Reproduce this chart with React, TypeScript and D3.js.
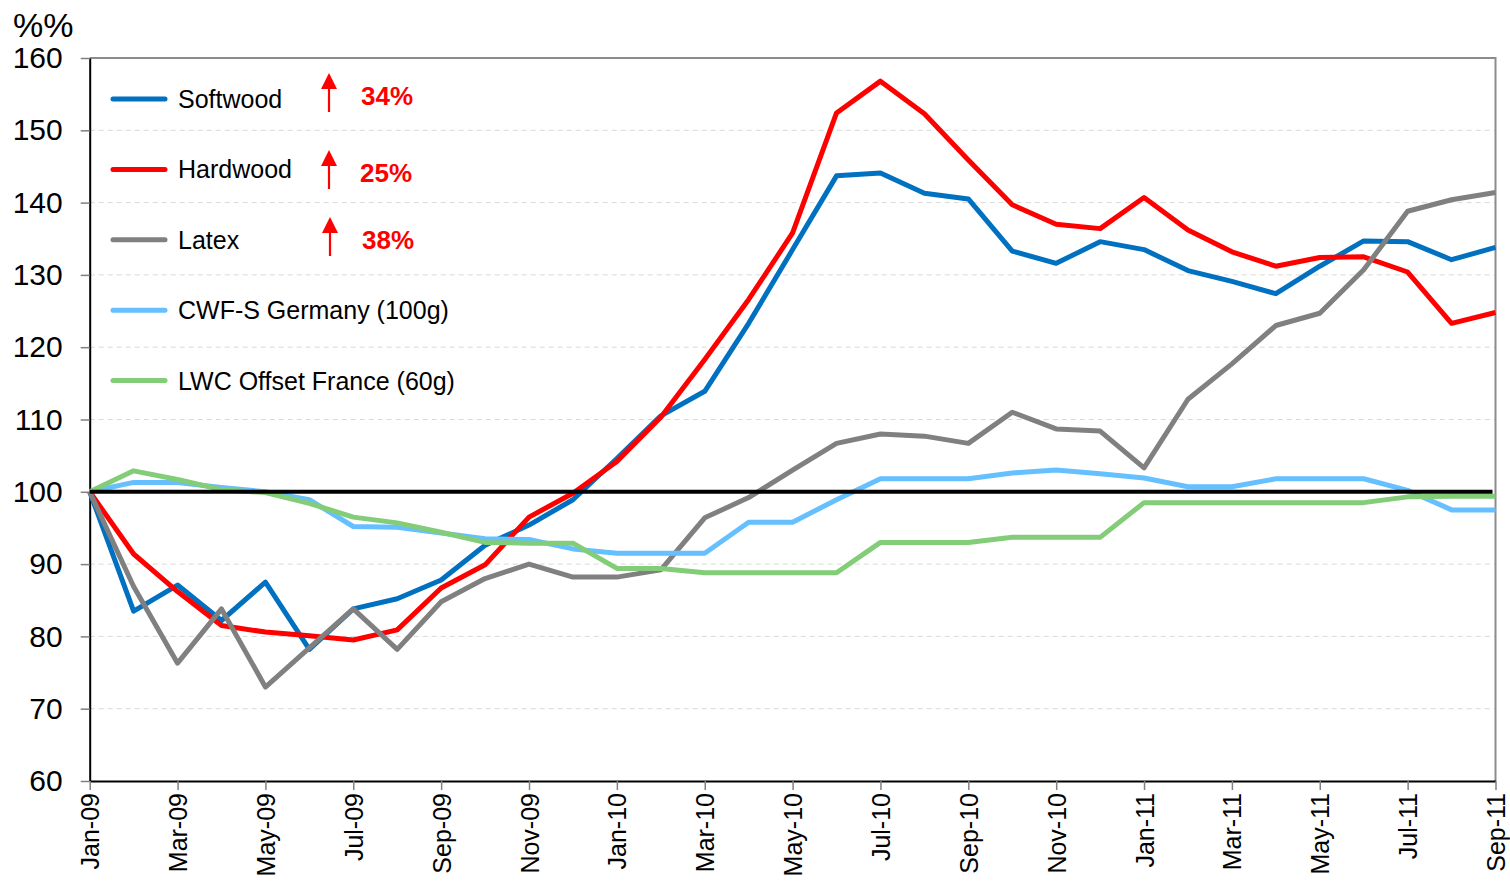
import React, { useEffect, useRef } from 'react';
import * as d3 from 'd3';

const months = [
  'Jan-09', 'Feb-09', 'Mar-09', 'Apr-09', 'May-09', 'Jun-09', 'Jul-09', 'Aug-09', 'Sep-09', 'Oct-09', 'Nov-09', 'Dec-09',
  'Jan-10', 'Feb-10', 'Mar-10', 'Apr-10', 'May-10', 'Jun-10', 'Jul-10', 'Aug-10', 'Sep-10', 'Oct-10', 'Nov-10', 'Dec-10',
  'Jan-11', 'Feb-11', 'Mar-11', 'Apr-11', 'May-11', 'Jun-11', 'Jul-11', 'Aug-11', 'Sep-11',
];

const xTickLabels = [
  'Jan-09', 'Mar-09', 'May-09', 'Jul-09', 'Sep-09', 'Nov-09',
  'Jan-10', 'Mar-10', 'May-10', 'Jul-10', 'Sep-10', 'Nov-10',
  'Jan-11', 'Mar-11', 'May-11', 'Jul-11', 'Sep-11',
];

const yTicks = [60, 70, 80, 90, 100, 110, 120, 130, 140, 150, 160];

const softwood = [100, 83.5, 87.1, 82.2, 87.5, 78.2, 83.8, 85.2, 87.8, 92.6, 95.4, 98.9, 104.6, 110.5, 113.9, 123.3, 133.5,
  143.7, 144.1, 141.3, 140.5, 133.3, 131.6, 134.6, 133.5, 130.6, 129.1, 127.4, 131.2, 134.7, 134.6, 132.1, 133.8];
const hardwood = [100, 91.4, 86.2, 81.5, 80.6, 80.1, 79.5, 80.9, 86.7, 89.9, 96.5, 99.8, 104.2, 110.3, 118.3, 126.6, 135.8,
  152.4, 156.8, 152.3, 145.9, 139.7, 137.0, 136.4, 140.7, 136.2, 133.2, 131.2, 132.4, 132.5, 130.4, 123.3, 124.8];
const latex = [100, 86.9, 76.3, 83.8, 73.0, 78.4, 83.8, 78.2, 84.8, 88.0, 90.0, 88.2, 88.2, 89.2, 96.4, 99.2, 103.0,
  106.7, 108.0, 107.7, 106.7, 111.0, 108.7, 108.4, 103.3, 112.8, 117.7, 123.0, 124.7, 130.7, 138.8, 140.4, 141.4];
const cwfGermany = [100, 101.3, 101.3, 100.6, 100, 98.9, 95.2, 95.1, 94.3, 93.5, 93.4, 92.1, 91.5, 91.5, 91.5, 95.8, 95.8,
  98.9, 101.8, 101.8, 101.8, 102.6, 103.0, 102.5, 101.9, 100.7, 100.7, 101.8, 101.8, 101.8, 100.2, 97.5, 97.5];
const lwcFrance = [100, 102.9, 101.7, 100.3, 99.9, 98.4, 96.5, 95.7, 94.4, 93.0, 92.9, 92.9, 89.4, 89.4, 88.8, 88.8, 88.8,
  88.8, 93.0, 93.0, 93.0, 93.7, 93.7, 93.7, 98.5, 98.5, 98.5, 98.5, 98.5, 98.5, 99.3, 99.4, 99.4];

const seriesNames = ['Softwood', 'Hardwood', 'Latex', 'CWF-S Germany (100g)', 'LWC Offset France (60g)'];
const seriesColors = ['#0070c0', '#ff0000', '#808080', '#66c0ff', '#83cc78'];
const changeLabels = ['34%', '25%', '38%'];

const width = 1510;
const height = 883;
const margin = { top: 58, right: 14.5, bottom: 102, left: 89.7 };
const font = '"Liberation Sans", Arial, sans-serif';

function App() {
  const ref = useRef<SVGSVGElement>(null);

  useEffect(() => {
    document.body.style.margin = '0';
    const svg = d3.select(ref.current);
    svg.selectAll('*').remove();

    const x = d3.scalePoint<string>()
      .domain(months)
      .range([margin.left, width - margin.right]);

    const y = d3.scaleLinear()
      .domain([60, 160])
      .range([height - margin.bottom, margin.top]);

    // grid
    svg.append('g')
      .selectAll('line')
      .data(yTicks.filter(d => d > 60 && d < 160))
      .join('line')
      .attr('x1', margin.left)
      .attr('x2', width - margin.right)
      .attr('y1', d => y(d))
      .attr('y2', d => y(d))
      .attr('stroke', '#d9d9d9')
      .attr('stroke-width', 1)
      .attr('stroke-dasharray', '5,4');

    // frame top / right
    svg.append('path')
      .attr('d', `M${margin.left},${y(160)}H${width - margin.right}V${y(60)}`)
      .attr('fill', 'none')
      .attr('stroke', '#8c8c8c')
      .attr('stroke-width', 2);

    const yAxis = svg.append('g')
      .attr('transform', `translate(${margin.left},0)`)
      .call(d3.axisLeft(y).tickValues(yTicks).tickSize(9).tickPadding(18).tickSizeOuter(0));
    yAxis.select('.domain').attr('stroke', '#000').attr('stroke-width', 2);
    yAxis.selectAll('.tick line').attr('stroke', '#808080').attr('stroke-width', 1.5);
    yAxis.selectAll('text')
      .attr('font-family', font)
      .attr('font-size', 30)
      .attr('fill', '#000');

    const xAxis = svg.append('g')
      .attr('transform', `translate(0,${height - margin.bottom})`)
      .call(d3.axisBottom(x).tickValues(xTickLabels).tickSize(9).tickSizeOuter(0));
    xAxis.select('.domain').attr('stroke', '#000').attr('stroke-width', 2);
    xAxis.selectAll('.tick line').attr('stroke', '#808080').attr('stroke-width', 1.5);
    xAxis.selectAll('text')
      .attr('font-family', font)
      .attr('font-size', 25)
      .attr('fill', '#000')
      .attr('transform', 'rotate(-90)')
      .attr('text-anchor', 'end')
      .attr('x', -12)
      .attr('y', 0)
      .attr('dy', '0.36em');

    svg.append('text')
      .attr('x', 13)
      .attr('y', 37)
      .attr('font-family', font)
      .attr('font-size', 34)
      .text('%%');

    const line = d3.line<number>()
      .x((d, i) => x(months[i]) as number)
      .y(d => y(d));

    const allSeries = [softwood, hardwood, latex, cwfGermany, lwcFrance];
    svg.append('g')
      .selectAll('path')
      .data(allSeries)
      .join('path')
      .attr('fill', 'none')
      .attr('stroke', (d, i) => seriesColors[i])
      .attr('stroke-width', 5)
      .attr('stroke-linejoin', 'round')
      .attr('d', d => line(d));

    // 100 reference line
    svg.append('line')
      .attr('x1', margin.left)
      .attr('x2', width - margin.right - 3)
      .attr('y1', y(100))
      .attr('y2', y(100))
      .attr('stroke', '#000')
      .attr('stroke-width', 4);

    // legend
    const legend = svg.append('g')
      .selectAll('g')
      .data(seriesNames)
      .join('g')
      .attr('transform', (d, i) => `translate(0,${99 + i * 70.4})`);
    legend.append('line')
      .attr('x1', 113)
      .attr('x2', 165)
      .attr('stroke', (d, i) => seriesColors[i])
      .attr('stroke-width', 5)
      .attr('stroke-linecap', 'round');
    legend.append('text')
      .attr('x', 178)
      .attr('dy', '0.36em')
      .attr('font-family', font)
      .attr('font-size', 25)
      .attr('fill', '#000')
      .text(d => d);

    // change arrows
    const arrowTops = [73, 150, 217];
    const arrowX = [329, 329, 330];
    const changeY = [105, 182, 249];
    const changeX = [361, 360, 362];
    const arrows = svg.append('g')
      .selectAll('g')
      .data(changeLabels)
      .join('g');
    arrows.append('line')
      .attr('x1', (d, i) => arrowX[i])
      .attr('x2', (d, i) => arrowX[i])
      .attr('y1', (d, i) => arrowTops[i] + 12)
      .attr('y2', (d, i) => arrowTops[i] + 39)
      .attr('stroke', '#ff0000')
      .attr('stroke-width', 2.2);
    arrows.append('path')
      .attr('d', (d, i) => `M${arrowX[i]},${arrowTops[i]}L${arrowX[i] + 8},${arrowTops[i] + 16}L${arrowX[i] - 8},${arrowTops[i] + 16}Z`)
      .attr('fill', '#ff0000');
    arrows.append('text')
      .attr('x', (d, i) => changeX[i])
      .attr('y', (d, i) => changeY[i])
      .attr('font-family', font)
      .attr('font-size', 26)
      .attr('font-weight', 'bold')
      .attr('fill', '#ff0000')
      .text(d => d);
  }, []);

  return <svg ref={ref} width={width} height={height} style={{ display: 'block', background: '#fff' }} />;
}

export default App;
